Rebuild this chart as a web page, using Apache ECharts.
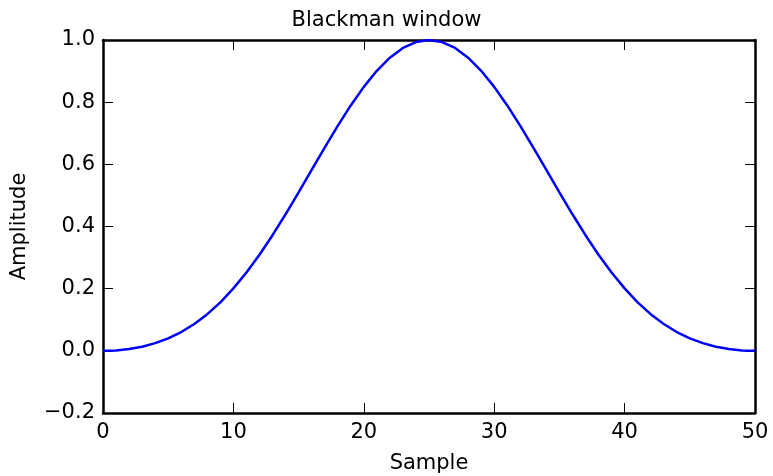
<!DOCTYPE html>
<html><head><meta charset="utf-8">
<script src="https://cdn.jsdelivr.net/npm/echarts@6/dist/echarts.min.js"></script>
<style>html,body{margin:0;padding:0;background:#fff}#c{width:773px;height:476px}</style>
</head><body><div id="c"></div>
<script>
const title = 'Blackman window';
const xName = 'Sample';
const yName = 'Amplitude';
const samples = [0,1,2,3,4,5,6,7,8,9,10,11,12,13,14,15,16,17,18,19,20,21,22,23,24,25,26,27,28,29,30,31,32,33,34,35,36,37,38,39,40,41,42,43,44,45,46,47,48,49,50];
const amplitude = [0,0.0014,0.0058,0.0134,0.0247,0.0402,0.0605,0.0863,0.1180,0.1561,0.2008,0.2519,0.3092,0.3720,0.4393,0.5098,0.5819,0.6539,0.7237,0.7895,0.8492,0.9010,0.9432,0.9744,0.9935,1.0,
0.9935,0.9744,0.9432,0.9010,0.8492,0.7895,0.7237,0.6539,0.5819,0.5098,0.4393,0.3720,0.3092,0.2519,0.2008,0.1561,0.1180,0.0863,0.0605,0.0402,0.0247,0.0134,0.0058,0.0014,0];
const xTicks = [0,10,20,30,40,50];
const yTicks = [-0.2,0.0,0.2,0.4,0.6,0.8,1.0];

const font = 'DejaVu Sans';
const chart = echarts.init(document.getElementById('c'), null, {renderer:'canvas'});
const line = {show:true, onZero:false, lineStyle:{color:'#000', width:2.5}};
const tick = {show:true, inside:true, length:10, lineStyle:{color:'#000', width:1}};
chart.setOption({
  animation:false,
  title:{text:title, left:'center', top:5, textStyle:{fontFamily:font, fontSize:21, fontWeight:'normal', color:'#000'}},
  grid:{left:103, top:40, width:652, height:373, containLabel:false, outerBoundsMode:'none'},
  xAxis:[
    {type:'value', min:xTicks[0], max:xTicks[xTicks.length-1], interval:10, position:'bottom', axisLine:line, axisTick:tick,
     axisLabel:{fontFamily:font, fontSize:21, color:'#000', margin:9, formatter:v=>String(v)},
     splitLine:{show:false}, name:xName, nameLocation:'middle', nameGap:40,
     nameTextStyle:{fontFamily:font, fontSize:21, color:'#000'}},
    {type:'value', min:xTicks[0], max:xTicks[xTicks.length-1], interval:10, position:'top', axisLine:line, axisTick:tick,
     axisLabel:{show:false}, splitLine:{show:false}}
  ],
  yAxis:[
    {type:'value', min:yTicks[0], max:yTicks[yTicks.length-1], interval:0.2, position:'left', axisLine:line, axisTick:tick,
     axisLabel:{fontFamily:font, fontSize:21, color:'#000', margin:8,
       formatter:v=>{const s=(Math.round(v*10)/10).toFixed(1); return s.replace('-','\u2212');}},
     splitLine:{show:false}, name:yName, nameLocation:'middle', nameGap:73, nameRotate:90,
     nameTextStyle:{fontFamily:font, fontSize:21, color:'#000'}},
    {type:'value', min:yTicks[0], max:yTicks[yTicks.length-1], interval:0.2, position:'right', axisLine:line, axisTick:tick,
     axisLabel:{show:false}, splitLine:{show:false}}
  ],
  series:[{type:'line', data:samples.map((s,i)=>[s,amplitude[i]]), showSymbol:false, symbol:'none',
    lineStyle:{color:'#0000ff', width:2.5}, itemStyle:{color:'#0000ff'}, z:1}]
});
</script></body></html>
